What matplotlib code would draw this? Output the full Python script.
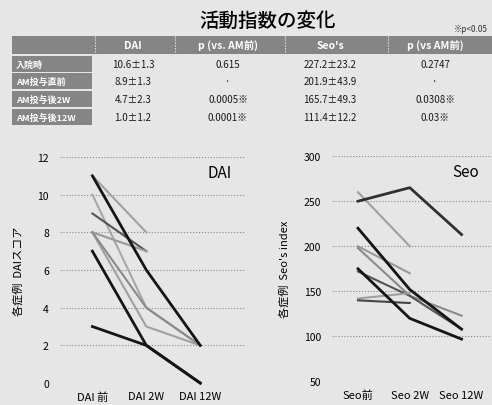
import matplotlib.pyplot as plt
from matplotlib.patches import Rectangle

plt.rcParams['font.family'] = ['Noto Sans CJK JP', 'DejaVu Sans']

# table data
col_labels = ["DAI", "p (vs. AM前)", "Seo's", "p (vs AM前)"]
row_labels = ["入院時", "AM投与直前", "AM投与後2W", "AM投与後12W"]
dai_vals = ["10.6±1.3", "8.9±1.3", "4.7±2.3", "1.0±1.2"]
dai_p = ["0.615", "·", "0.0005※", "0.0001※"]
seo_vals = ["227.2±23.2", "201.9±43.9", "165.7±49.3", "111.4±12.2"]
seo_p = ["0.2747", "·", "0.0308※", "0.03※"]

# per-patient DAI (前, 2W, 12W); None = no value
dai_cats = ["DAI 前", "DAI 2W", "DAI 12W"]
dai_series = [
    [11, 8, None],
    [10, 4, 2],
    [9, 7, None],
    [8, 7, None],
    [8, 3, 2],
    [8, 4, 2],
    [11, 6, 2],
    [7, 2, 0],
    [3, 2, 0],
]
dai_colors = ["#a0a0a0", "#a8a8a8", "#555555", "#999999", "#a0a0a0", "#8a8a8a",
              "#151515", "#151515", "#151515"]

seo_cats = ["Seo前", "Seo 2W", "Seo 12W"]
seo_series = [
    [260, 200, None],
    [200, 170, None],
    [198, 145, 123],
    [172, 145, 108],
    [142, 148, None],
    [140, 137, None],
    [250, 265, 213],
    [220, 152, 108],
    [175, 120, 97],
]
seo_colors = ["#a0a0a0", "#9a9a9a", "#8a8a8a", "#555555", "#a0a0a0", "#444444",
              "#303030", "#151515", "#151515"]

bg = "#e6e6e6"
fig = plt.figure(figsize=(4.92, 4.06), dpi=100, facecolor=bg)

# --- title and table in pixel coords
top = fig.add_axes([0, 0, 1, 1])
top.set_xlim(0, 492)
top.set_ylim(406, 0)
top.axis("off")
top.patch.set_alpha(0)

top.text(268, 21, "活動指数の変化", ha="center", va="center", fontsize=14, fontweight="medium")
top.text(488, 29, "※p<0.05", ha="right", va="center", fontsize=6, style="italic", color="#333333")

col_x = [133, 228, 330, 435]
col_edges = [95, 175, 285, 388]
row_y = [65, 82, 100, 118]
head_y = 46
dark = "#858585"

top.add_patch(Rectangle((12, 37), 480, 18, facecolor=dark, edgecolor="none"))
for x in col_edges:
    top.plot([x, x], [37, 55], color="white", lw=0.8, ls=":")
for x, lab in zip(col_x, col_labels):
    top.text(x, head_y, lab, ha="center", va="center", fontsize=7.5, color="white",
             fontweight="bold")

for y, lab, a, b, c, d in zip(row_y, row_labels, dai_vals, dai_p, seo_vals, seo_p):
    top.add_patch(Rectangle((12, y - 8), 80, 16, facecolor=dark, edgecolor="none"))
    top.text(16, y, lab, ha="left", va="center", fontsize=6.5, color="white",
             fontweight="bold")
    for x, v in zip(col_x, [a, b, c, d]):
        top.text(x, y, v, ha="center", va="center", fontsize=7, color="#1a1a1a")


def draw_panel(rect, cats, series, colors, ylim, yticks, ylabel, name, xlim):
    ax = fig.add_axes(rect)
    ax.patch.set_alpha(0)
    for vals, c in zip(series, colors):
        xs = [i for i, v in enumerate(vals) if v is not None]
        ys = [v for v in vals if v is not None]
        lw = 2.0 if c in ("#151515", "#303030") else 1.5
        ax.plot(xs, ys, color=c, lw=lw, clip_on=False)
    ax.set_ylim(*ylim)
    ax.set_xlim(*xlim)
    ax.set_yticks(yticks)
    ax.set_xticks(range(len(cats)))
    ax.set_xticklabels(cats, fontsize=8)
    ax.tick_params(axis="y", labelsize=7.5, length=0, pad=8)
    ax.tick_params(axis="x", length=0, pad=6)
    ax.grid(axis="y", color="#888888", ls=":", lw=0.8)
    for s in ax.spines.values():
        s.set_visible(False)
    ax.set_ylabel(ylabel, fontsize=8, labelpad=10)
    ax.text(0.93, 0.93, name, transform=ax.transAxes, ha="right", va="center", fontsize=11)
    return ax


draw_panel([0.122, 0.054, 0.376, 0.557], dai_cats, dai_series, dai_colors,
           (0, 12), range(0, 13, 2), "各症例  DAIスコア", "DAI", (-0.6, 2.83))
draw_panel([0.675, 0.058, 0.321, 0.555], seo_cats, seo_series, seo_colors,
           (50, 300), range(50, 301, 50), "各症例  Seo's index", "Seo", (-0.5, 2.55))

fig.savefig("out.png", dpi=100, facecolor=bg)
